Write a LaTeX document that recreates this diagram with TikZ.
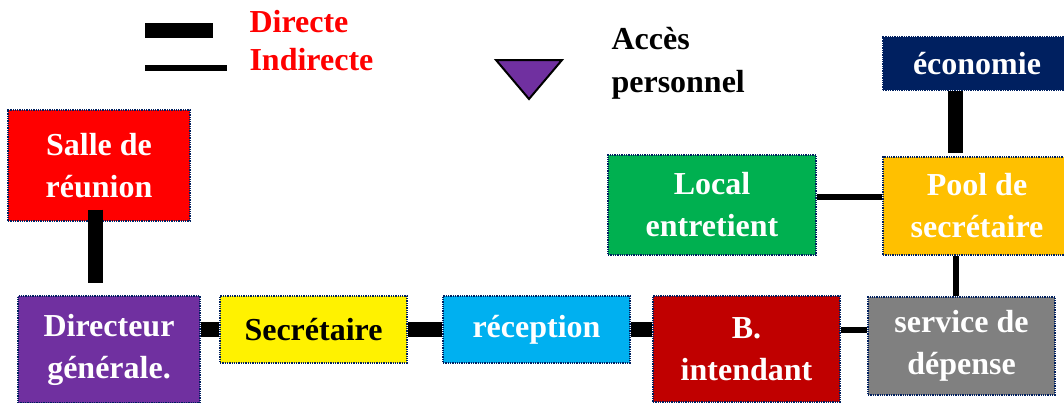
\documentclass[tikz,border=0pt]{standalone}
\usepackage{fontspec}
\setmainfont{Liberation Serif}
\usetikzlibrary{positioning}

\definecolor{violet}{RGB}{112,48,160}
\definecolor{rouge}{RGB}{255,0,0}
\definecolor{bordeaux}{RGB}{192,0,0}
\definecolor{ciel}{RGB}{0,176,240}
\definecolor{vert}{RGB}{0,176,80}
\definecolor{orange}{RGB}{255,192,0}
\definecolor{marine}{RGB}{0,32,96}
\definecolor{gris}{RGB}{128,128,128}

\tikzset{
  box/.style={draw=marine,densely dotted,line width=1.3pt,text=white,align=center,
    inner sep=0pt,font=\fontsize{32}{42}\selectfont\bfseries},
  legende/.style={anchor=base west,font=\fontsize{32}{42}\selectfont\bfseries},
  direct/.style={line width=15pt},
  indirect/.style={line width=6pt}
}

\begin{document}
\begin{tikzpicture}[x=1pt,y=-1pt]
\useasboundingbox (0,0) rectangle (1064,402);

% legende
\draw[direct] (145,30.5)--(213,30.5);
\draw[indirect] (145,68)--(227,68);
\node[legende,text=rouge] (ldir) at (246,32) {Directe};
\node[legende,text=rouge] (lind) at (246,70) {Indirecte};
\filldraw[fill=violet,draw=black,line width=2pt,line join=miter] (496,60) -- (562,60) -- (529,99) -- cycle;
\node[legende] (lacc) at (608,49) {Accès};
\node[legende] (lper) at (608,92) {personnel};

% services
\node[box,fill=rouge,minimum width=182pt,minimum height=111pt] (salle) at (99,165.5) {Salle de\\réunion};
\node[box,fill=violet,minimum width=182pt,minimum height=107pt] (dir) at (109,349.5) {Directeur\\générale.};
\node[box,fill=yellow,text=black,minimum width=187pt,minimum height=67pt] (sec) at (313.5,329.5) {Secrétaire};
\node[box,fill=ciel,minimum width=187pt,minimum height=67pt] (rec) at (536.5,329.5) {réception};
\node[box,fill=bordeaux,minimum width=187pt,minimum height=106pt] (bint) at (746.5,349) {B.\\intendant};
\node[box,fill=gris,minimum width=187pt,minimum height=98pt] (serv) at (961.5,346) {service de\\dépense};
\node[box,fill=orange,minimum width=188pt,minimum height=98pt] (pool) at (977,206) {Pool de\\secrétaire};
\node[box,fill=vert,minimum width=208pt,minimum height=100pt] (local) at (712,205) {Local\\entretient};
\node[box,fill=marine,minimum width=188pt,minimum height=53pt] (eco) at (977,63.5) {économie};

% liaisons
\draw[direct,shorten <=-12pt,shorten >=12pt] ([xshift=-4pt]salle.south) -- ([xshift=-4pt]salle.south |- dir.north);
\draw[direct] (dir.east |- sec.west) -- (sec.west);
\draw[direct] (sec.east) -- (rec.west);
\draw[direct] (rec.east) -- (rec.east -| bint.west);
\draw[indirect] (rec.east -| bint.east) -- (rec.east -| serv.west);
\draw[indirect] ([xshift=-21pt]pool.south) -- ([xshift=-21pt]pool.south |- serv.north);
\draw[direct,shorten >=3pt] ([xshift=-22pt]eco.south) -- ([xshift=-22pt]eco.south |- pool.north);
\draw[indirect] ([yshift=8pt]local.east) -- ([yshift=8pt]local.east -| pool.west);
\end{tikzpicture}
\end{document}
